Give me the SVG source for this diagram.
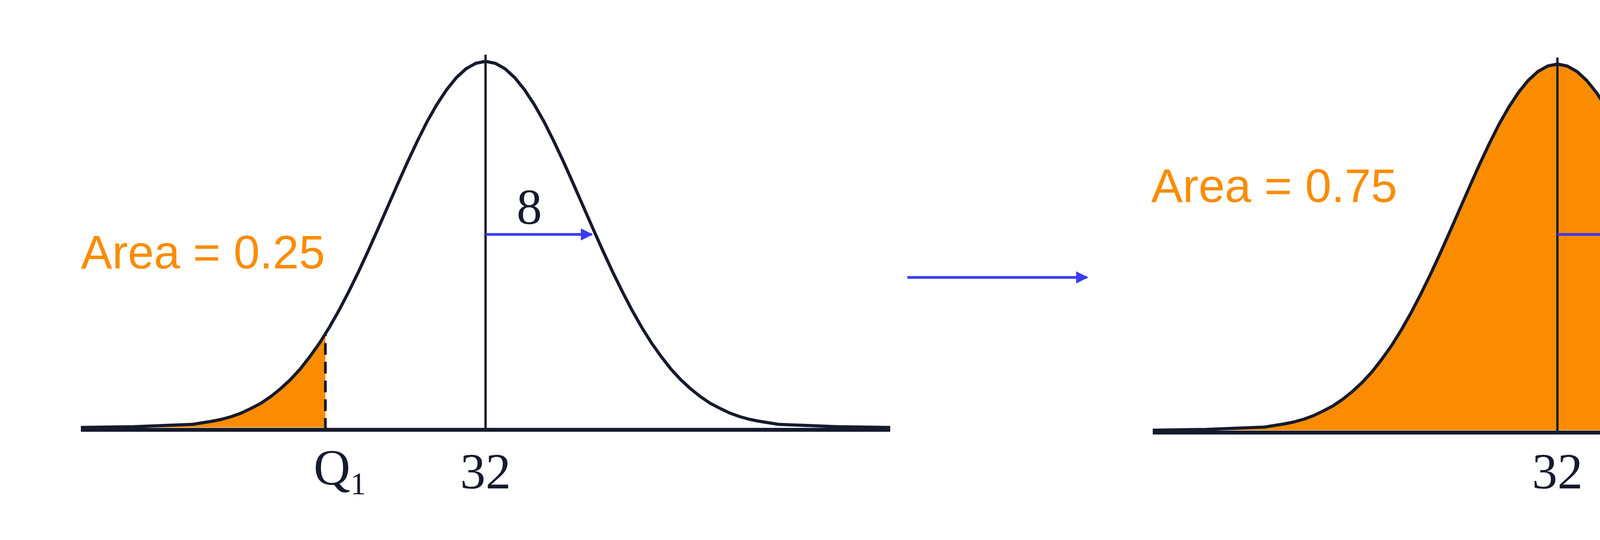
<svg xmlns="http://www.w3.org/2000/svg" xmlns:xlink="http://www.w3.org/1999/xlink" width="5200" height="1382" viewBox="0 0 5200 1382">
<style>
.curve{fill:none;stroke:#161a2c;stroke-width:8;stroke-linejoin:round}
.base{stroke:#161a2c;stroke-width:10}
.vl{stroke:#161a2c;stroke-width:6}
.shade{fill:#fb8c00;stroke:none}
.blue{stroke:#3b3bf5;stroke-width:7;fill:none}
.math{font-family:"Liberation Serif",serif;font-size:130px;fill:#161a2c}
.area{font-family:"Liberation Sans",sans-serif;font-size:120px;fill:#fb8c00}
</style>
<defs>
<path id="bell" d="M-1036,-6 L-900,-8 -800,-12 -750,-14 -700,-22 -675,-27 -650,-34 -625,-43 -600,-55 -575,-68 -550,-85 -525,-105 -500,-128 -475,-155 -450,-187 -425,-222 -400,-262 -375,-306 -350,-354 -325,-405 -300,-459 -275,-515 -250,-572 -225,-629 -200,-685 -175,-738 -150,-788 -125,-832 -100,-870 -75,-901 -50,-924 -25,-938 0,-943 25,-938 50,-924 75,-901 100,-870 125,-832 150,-788 175,-738 200,-685 225,-629 250,-572 275,-515 300,-459 325,-405 350,-354 375,-306 400,-262 425,-222 450,-187 475,-155 500,-128 525,-105 550,-85 575,-68 600,-55 625,-43 650,-34 675,-27 700,-22 750,-14 800,-12 900,-8 1036,-6"/>
<clipPath id="c1"><rect x="-1100" y="-1000" width="690" height="1000"/></clipPath>
<clipPath id="c2"><rect x="-1100" y="-1000" width="1466" height="1000"/></clipPath>
<marker id="ah" viewBox="0 0 10 10" refX="9" refY="5" markerWidth="4.5" markerHeight="4.5" markerUnits="strokeWidth" orient="auto"><path d="M0,0 L10,5 L0,10 Z" fill="#3b3bf5"/></marker>
</defs>
<g id="left" transform="translate(1243,1100)">
<use xlink:href="#bell" class="shade" clip-path="url(#c1)"/>
<use xlink:href="#bell" class="curve"/>
<line class="base" x1="-1036" y1="0" x2="1036" y2="0"/>
<line class="vl" x1="0" y1="0" x2="0" y2="-960"/>
<line x1="-410" y1="0" x2="-410" y2="-245" stroke="#161a2c" stroke-width="7" stroke-dasharray="30,18"/>
<text class="area" x="-1036" y="-413" textLength="625" lengthAdjust="spacingAndGlyphs">Area = 0.25</text>
<text class="math" x="112" y="-527" text-anchor="middle">8</text>
<text class="math" x="0" y="150" text-anchor="middle">32</text>
<text class="math" x="-440" y="140">Q<tspan font-size="80" dy="25">1</tspan></text>
</g>
<g id="right" transform="translate(3987,1107)">
<use xlink:href="#bell" class="shade" clip-path="url(#c2)"/>
<use xlink:href="#bell" class="curve"/>
<line class="base" x1="-1036" y1="0" x2="1036" y2="0"/>
<line class="vl" x1="0" y1="0" x2="0" y2="-960"/>
<line class="vl" x1="366" y1="0" x2="366" y2="-323"/>
<text class="area" x="-1040" y="-590" textLength="630" lengthAdjust="spacingAndGlyphs">Area = 0.75</text>
<text class="math" x="140" y="-527" text-anchor="middle">8</text>
<text class="math" x="0" y="143" text-anchor="middle">32</text>
<text class="math" x="320" y="140">Q<tspan font-size="80" dy="25">3</tspan></text>
</g>
<g id="connectors">
<line class="blue" x1="1243" y1="600" x2="1515" y2="600" marker-end="url(#ah)"/>
<line class="blue" x1="3987" y1="600" x2="4265" y2="600" marker-end="url(#ah)"/>
<line class="blue" x1="2323" y1="710" x2="2783" y2="710" marker-end="url(#ah)"/>
</g>
</svg>
